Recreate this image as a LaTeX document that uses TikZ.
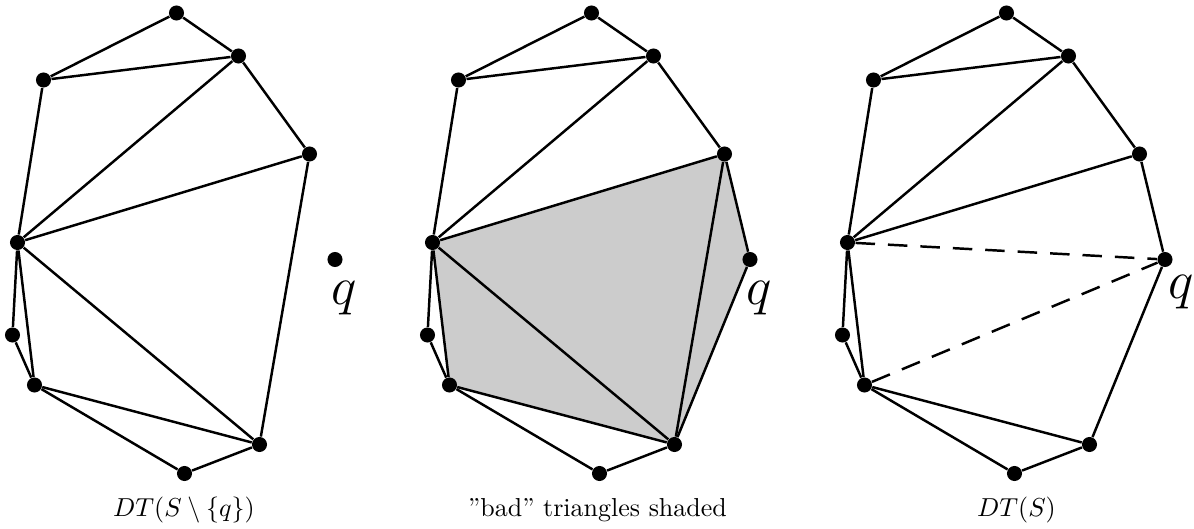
\documentclass[tikz,border=0pt]{standalone}
\usepackage{tikz}
\usetikzlibrary{positioning, backgrounds}

\tikzset{
    site/.style={circle, fill=black, inner sep=0pt, minimum size=5.8pt},
    edge/.style={line width=0.95pt},
    newedge/.style={edge, dash pattern=on 7.5pt off 5pt},
    badtri/.style={fill=black!20},
    qlabel/.style={inner sep=0pt, font=\huge},
    caption/.style={inner sep=0pt, font=\normalsize}
}

% the nine sites of S without q
\newcommand{\placesites}{%
    \node[site] (a) at (176.5,13) {};
    \node[site] (b) at (238.5,56) {};
    \node[site] (c) at (43.5,80) {};
    \node[site] (d) at (309.5,154) {};
    \node[site] (e) at (17.5,242.5) {};
    \node[site] (f) at (12.5,335) {};
    \node[site] (g) at (34.5,385) {};
    \node[site] (h) at (259.5,444.5) {};
    \node[site] (i) at (184.5,473.5) {};
    \node[site] (q) at (335,259.5) {};
}

\begin{document}
\begin{tikzpicture}[x=0.385pt, y=-0.385pt]

\useasboundingbox (0,0) rectangle (1194,529);

% DT(S \ {q})
\begin{scope}[name prefix=old-]
\placesites
\draw[edge] (a) -- (b);
\draw[edge] (a) -- (c);
\draw[edge] (c) -- (b);
\draw[edge] (c) -- (e);
\draw[edge] (e) -- (b);
\draw[edge] (b) -- (d);
\draw[edge] (e) -- (d);
\draw[edge] (d) -- (h);
\draw[edge] (e) -- (f);
\draw[edge] (e) -- (g);
\draw[edge] (f) -- (g);
\draw[edge] (e) -- (h);
\draw[edge] (g) -- (h);
\draw[edge] (g) -- (i);
\draw[edge] (i) -- (h);
\node[qlabel] (ql) at (344.5,298) {$q$};
\node[caption] (cap) at (184,510) {$DT(S\setminus\{q\})$};
\end{scope}

% bad triangles
\begin{scope}[xshift=415*0.385pt, name prefix=bad-]
\placesites
\begin{scope}[on background layer]
\fill[badtri] (e.center) -- (d.center) -- (q.center) -- (h.center) -- (g.center) -- cycle;
\end{scope}
\draw[edge] (a) -- (b);
\draw[edge] (a) -- (c);
\draw[edge] (c) -- (b);
\draw[edge] (c) -- (e);
\draw[edge] (e) -- (b);
\draw[edge] (b) -- (d);
\draw[edge] (e) -- (d);
\draw[edge] (d) -- (h);
\draw[edge] (d) -- (q);
\draw[edge] (q) -- (h);
\draw[edge] (e) -- (f);
\draw[edge] (e) -- (g);
\draw[edge] (f) -- (g);
\draw[edge] (e) -- (h);
\draw[edge] (g) -- (h);
\draw[edge] (g) -- (i);
\draw[edge] (i) -- (h);
\node[qlabel] (ql) at (344,298) {$q$};
\node[caption] (cap) at (182.5,510) {''bad'' triangles shaded};
\end{scope}

% DT(S)
\begin{scope}[xshift=830*0.385pt, name prefix=new-]
\placesites
\draw[edge] (a) -- (b);
\draw[edge] (a) -- (c);
\draw[edge] (c) -- (b);
\draw[edge] (c) -- (e);
\draw[edge] (e) -- (b);
\draw[edge] (b) -- (d);
\draw[edge] (e) -- (d);
\draw[edge] (d) -- (q);
\draw[edge] (q) -- (h);
\draw[edge] (e) -- (f);
\draw[edge] (e) -- (g);
\draw[edge] (f) -- (g);
\draw[edge] (g) -- (h);
\draw[edge] (g) -- (i);
\draw[edge] (i) -- (h);
\draw[newedge] (e) -- (q);
\draw[newedge] (g) -- (q);
\node[qlabel] (ql) at (351,292.5) {$q$};
\node[caption] (cap) at (186.5,510) {$DT(S)$};
\end{scope}

\end{tikzpicture}
\end{document}
